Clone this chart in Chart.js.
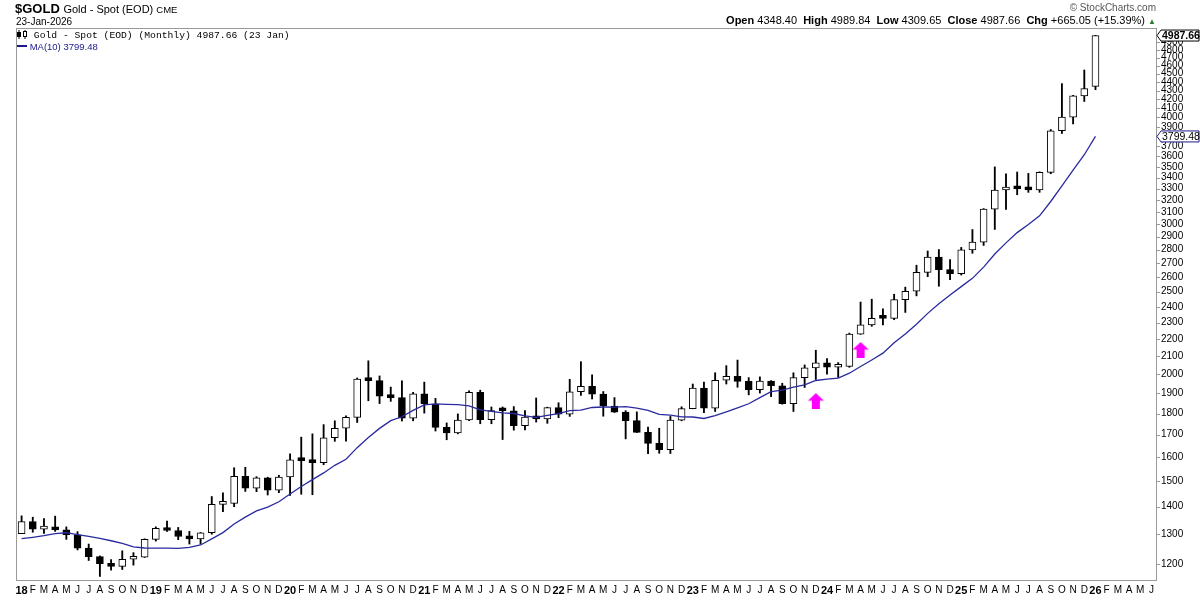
<!DOCTYPE html>
<html>
<head>
<meta charset="utf-8">
<script src="https://cdn.jsdelivr.net/npm/chart.js@4.4.1/dist/chart.umd.min.js"></script>
<style>
  body { margin: 0; background: #fff; }
  #wrap { position: relative; width: 1200px; height: 600px; font-family: "Liberation Sans", Arial, sans-serif; }
  #wrap canvas { position: absolute; left: 0; top: 0; }
  .t { position: absolute; white-space: nowrap; color: #000; }
</style>
</head>
<body>
<div id="wrap">
  <canvas id="gold" width="1200" height="600"></canvas>
  <div class="t" style="left:15px; top:1px; font-size:13px; font-weight:bold;">$GOLD <span style="font-weight:normal; font-size:11px;">Gold - Spot (EOD) <span style="font-size:9.5px;">CME</span></span></div>
  <div class="t" style="left:16px; top:16px; font-size:10px;">23-Jan-2026</div>
  <div class="t" style="right:44px; top:2px; font-size:10px; color:#555;">&copy; StockCharts.com</div>
  <div class="t" style="right:44px; top:14px; font-size:11px;"><b>Open</b> 4348.40 &nbsp;<b>High</b> 4989.84 &nbsp;<b>Low</b> 4309.65 &nbsp;<b>Close</b> 4987.66 &nbsp;<b>Chg</b> +665.05 (+15.39%) <span style="color:#2e7d32; font-size:8px;">&#9650;</span></div>
  <div class="t" style="left:17px; top:30px; font-family:'Liberation Mono', monospace; font-size:9.7px;"><svg width="11" height="9" style="vertical-align:-1px"><path d="M2 0V9M8 0V9" stroke="#000" stroke-width="1"/><rect x="0.5" y="2.5" width="3" height="4" fill="#000" stroke="#000"/><rect x="6.5" y="1.5" width="3" height="5" fill="#fff" stroke="#000"/></svg> Gold - Spot (EOD) (Monthly) 4987.66 (23 Jan)</div>
  <div class="t" style="left:17px; top:41px; font-size:9.5px; color:#1a1a8c;"><span style="display:inline-block; width:10px; height:2px; background:#1a1a8c; vertical-align:3px;"></span> MA(10) 3799.48</div>
</div>
<script>
// month axis: Jan 2018 .. Jun 2026
var monthLetters = ['J', 'F', 'M', 'A', 'M', 'J', 'J', 'A', 'S', 'O', 'N', 'D'];
var years = ['18', '19', '20', '21', '22', '23', '24', '25', '26'];
var monthCount = 102;

// price ticks on the right axis
var yTicks = [1200, 1300, 1400, 1500, 1600, 1700, 1800, 1900, 2000, 2100, 2200, 2300, 2400, 2500,
  2600, 2700, 2800, 2900, 3000, 3100, 3200, 3300, 3400, 3500, 3600, 3700, 3800, 3900, 4000,
  4100, 4200, 4300, 4400, 4500, 4600, 4700, 4800, 4900];

// monthly OHLC, Jan 2018 .. Jan 2026
var opens = [
  1302, 1345, 1318, 1325, 1315, 1298, 1252, 1224, 1201, 1192, 1215, 1222,
  1282, 1321, 1313, 1292, 1284, 1305, 1409, 1413, 1520, 1472, 1513, 1464,
  1517, 1589, 1585, 1577, 1686, 1730, 1781, 1975, 1967, 1886, 1879, 1777,
  1898, 1847, 1734, 1708, 1769, 1906, 1770, 1814, 1813, 1742, 1783, 1774,
  1829, 1797, 1909, 1937, 1897, 1837, 1807, 1766, 1711, 1661, 1633, 1768,
  1824, 1928, 1826, 1969, 1990, 1963, 1919, 1965, 1940, 1849, 1983, 2036,
  2063, 2039, 2044, 2230, 2286, 2327, 2326, 2447, 2503, 2634, 2744, 2653,
  2625, 2798, 2858, 3124, 3289, 3305, 3300, 3290, 3448, 3858, 4002, 4239,
  4348.40
];
var highs = [
  1366, 1361, 1356, 1365, 1326, 1309, 1266, 1226, 1214, 1243, 1237, 1284,
  1326, 1347, 1324, 1310, 1306, 1439, 1453, 1555, 1557, 1518, 1516, 1524,
  1615, 1689, 1704, 1747, 1765, 1789, 1981, 2075, 1992, 1933, 1966, 1906,
  1959, 1875, 1755, 1798, 1913, 1917, 1832, 1832, 1834, 1814, 1877, 1831,
  1853, 1974, 2070, 1998, 1910, 1879, 1814, 1808, 1735, 1730, 1786, 1833,
  1949, 1959, 2009, 2048, 2079, 1983, 1987, 1967, 1953, 2009, 2052, 2135,
  2088, 2065, 2236, 2431, 2450, 2387, 2483, 2531, 2685, 2790, 2801, 2726,
  2817, 2956, 3128, 3500, 3435, 3452, 3439, 3454, 3871, 4381, 4245, 4545,
  4989.84
];
var lows = [
  1302, 1307, 1303, 1310, 1282, 1246, 1211, 1160, 1180, 1182, 1196, 1221,
  1276, 1310, 1281, 1266, 1266, 1300, 1381, 1400, 1459, 1458, 1445, 1454,
  1443, 1448, 1446, 1568, 1670, 1671, 1757, 1863, 1849, 1860, 1764, 1765,
  1802, 1717, 1677, 1704, 1766, 1751, 1751, 1678, 1721, 1722, 1759, 1753,
  1780, 1786, 1890, 1872, 1787, 1805, 1681, 1710, 1615, 1617, 1616, 1765,
  1823, 1804, 1810, 1949, 1932, 1893, 1902, 1884, 1846, 1810, 1931, 1973,
  2001, 1984, 2039, 2228, 2277, 2286, 2318, 2364, 2472, 2603, 2537, 2583,
  2615, 2773, 2832, 2957, 3121, 3247, 3268, 3268, 3436, 3830, 3930, 4175,
  4309.65
];
var closes = [
  1345, 1318, 1325, 1315, 1298, 1252, 1224, 1201, 1192, 1215, 1222, 1282,
  1321, 1313, 1292, 1284, 1305, 1409, 1413, 1520, 1472, 1513, 1464, 1517,
  1589, 1585, 1577, 1686, 1730, 1781, 1975, 1967, 1886, 1879, 1777, 1898,
  1847, 1734, 1708, 1769, 1906, 1770, 1814, 1813, 1742, 1783, 1774, 1829,
  1797, 1909, 1937, 1897, 1837, 1807, 1766, 1711, 1661, 1633, 1768, 1824,
  1928, 1826, 1969, 1990, 1963, 1919, 1965, 1940, 1849, 1983, 2036, 2063,
  2039, 2044, 2230, 2286, 2327, 2326, 2447, 2503, 2634, 2744, 2653, 2625,
  2798, 2858, 3124, 3289, 3295, 3298, 3290, 3448, 3858, 4002, 4239, 4322.61,
  4987.66
];

// 10-month moving average as plotted
var ma10 = [
  1284.3, 1289.3, 1295.0, 1302.3, 1305.2, 1298.2, 1292.6, 1285.6, 1277.3, 1268.5, 1256.2, 1252.6,
  1252.2, 1252.0, 1251.4, 1254.6, 1262.7, 1283.5, 1305.6, 1336.1, 1361.1, 1384.2, 1398.5, 1418.9,
  1448.6, 1478.7, 1505.9, 1533.6, 1565.3, 1591.4, 1641.7, 1687.1, 1729.3, 1765.5, 1784.3, 1815.6,
  1842.6, 1847.4, 1845.2, 1844.0, 1837.1, 1817.4, 1810.2, 1803.6, 1800.1, 1788.6, 1781.3, 1790.8,
  1799.7, 1813.7, 1816.8, 1829.5, 1831.8, 1831.2, 1833.6, 1826.4, 1815.1, 1795.5, 1792.6, 1784.1,
  1783.2, 1776.1, 1789.3, 1807.6, 1827.3, 1848.1, 1878.5, 1909.2, 1917.3, 1933.2, 1944.0, 1967.7,
  1974.7, 1980.1, 2006.8, 2043.5, 2079.7, 2118.3, 2178.1, 2230.1, 2289.9, 2358.0, 2419.4, 2477.5,
  2534.3, 2591.5, 2671.2, 2767.5, 2851.7, 2931.7, 2997.3, 3067.7, 3188.2, 3325.9, 3470.0, 3616.5,
  3799.48
];

// magenta up arrows (month index, price)
var arrowMonths = [71, 75];
var arrowPrices = [1861, 2136];

// build what Chart.js needs
var labels = [];
for (var i = 0; i < monthCount; i++) {
  var m = i % 12;
  labels.push(m === 0 ? years[i / 12] : monthLetters[m]);
}
var bodies = opens.map(function (o, i) { return [o, closes[i]]; });
var wicks = lows.map(function (l, i) { return [l, highs[i]]; });
var bodyColors = opens.map(function (o, i) { return closes[i] >= o ? '#ffffff' : '#000000'; });
var arrowData = labels.map(function () { return null; });
arrowMonths.forEach(function (m, i) { arrowData[m] = arrowPrices[i]; });

// arrow marker
var arrowImg = document.createElement('canvas');
arrowImg.width = 16; arrowImg.height = 16;
var actx = arrowImg.getContext('2d');
actx.fillStyle = '#ff00ff';
actx.beginPath();
actx.moveTo(8, 0); actx.lineTo(16, 7.5); actx.lineTo(12, 7.5); actx.lineTo(12, 16);
actx.lineTo(4, 16); actx.lineTo(4, 7.5); actx.lineTo(0, 7.5); actx.closePath();
actx.fill();

var fontFam = '"Liberation Sans", Arial, sans-serif';

function priceTag(ctx, x, y, text, color, weight) {
  ctx.beginPath();
  ctx.moveTo(x, y);
  ctx.lineTo(x + 4, y - 5.5);
  ctx.lineTo(x + 42, y - 5.5);
  ctx.lineTo(x + 42, y + 5.5);
  ctx.lineTo(x + 4, y + 5.5);
  ctx.closePath();
  ctx.fillStyle = '#fff';
  ctx.fill();
  ctx.strokeStyle = color;
  ctx.lineWidth = 1;
  ctx.stroke();
  ctx.fillStyle = '#000';
  ctx.font = weight + ' 10.5px ' + fontFam;
  ctx.textBaseline = 'middle';
  ctx.textAlign = 'left';
  ctx.fillText(text, x + 5, y + 0.5);
}

var framePlugin = {
  id: 'frame',
  afterDraw: function (chart) {
    var ctx = chart.ctx, a = chart.chartArea, y = chart.scales.y;
    ctx.save();
    ctx.strokeStyle = '#9a9a9a';
    ctx.lineWidth = 1;
    ctx.strokeRect(a.left + 0.5, a.top + 0.5, a.right - a.left - 1, a.bottom - a.top);
    yTicks.forEach(function (v) {
      var py = Math.round(y.getPixelForValue(v)) + 0.5;
      ctx.beginPath(); ctx.moveTo(a.right, py); ctx.lineTo(a.right + 3, py); ctx.stroke();
    });
    var last = closes.length - 1;
    priceTag(ctx, a.right, y.getPixelForValue(ma10[last]), ma10[last].toFixed(2), '#1a1a8c', 'normal');
    priceTag(ctx, a.right, y.getPixelForValue(closes[last]), closes[last].toFixed(2), '#000', 'bold');
    ctx.restore();
  }
};

var ctx = document.getElementById('gold').getContext('2d');
var goldChart = new Chart(ctx, {
  type: 'bar',
  data: {
    labels: labels,
    datasets: [{
      type: 'line',
      label: 'MA(10)',
      data: ma10,
      borderColor: '#2a2aa0',
      borderWidth: 1.3,
      pointRadius: 0,
      tension: 0,
      order: 0
    }, {
      type: 'line',
      label: 'arrows',
      data: arrowData,
      showLine: false,
      pointStyle: arrowImg,
      pointRadius: 8,
      order: 0
    }, {
      label: 'body',
      data: bodies,
      backgroundColor: bodyColors,
      borderColor: '#000',
      borderWidth: 1,
      borderSkipped: false,
      barThickness: 7,
      minBarLength: 3,
      grouped: false,
      order: 1
    }, {
      label: 'wick',
      data: wicks,
      backgroundColor: '#000',
      barThickness: 1.2,
      grouped: false,
      order: 2
    }]
  },
  options: {
    responsive: false,
    animation: false,
    layout: { padding: { left: 16, top: 28, right: 0, bottom: 0 } },
    plugins: {
      legend: { display: false },
      tooltip: { enabled: false }
    },
    scales: {
      x: {
        type: 'category',
        offset: true,
        grid: { display: false, drawTicks: false },
        border: { display: false },
        ticks: {
          autoSkip: false,
          maxRotation: 0,
          minRotation: 0,
          padding: 4,
          color: '#000',
          font: function (c) {
            return c.index % 12 === 0
              ? { size: 11, weight: 'bold', family: fontFam }
              : { size: 10, family: fontFam };
          }
        },
        afterFit: function (s) { s.height = 20; }
      },
      y: {
        type: 'logarithmic',
        position: 'right',
        min: 1149,
        max: 5090,
        grid: { display: false, drawTicks: false },
        border: { display: false },
        afterBuildTicks: function (s) {
          s.ticks = yTicks.map(function (v) { return { value: v }; });
        },
        ticks: {
          autoSkip: false,
          padding: 4,
          color: '#000',
          font: { size: 10, family: fontFam },
          callback: function (v) { return String(v); }
        },
        afterFit: function (s) { s.width = 43; }
      }
    }
  },
  plugins: [framePlugin]
});
</script>
</body>
</html>
